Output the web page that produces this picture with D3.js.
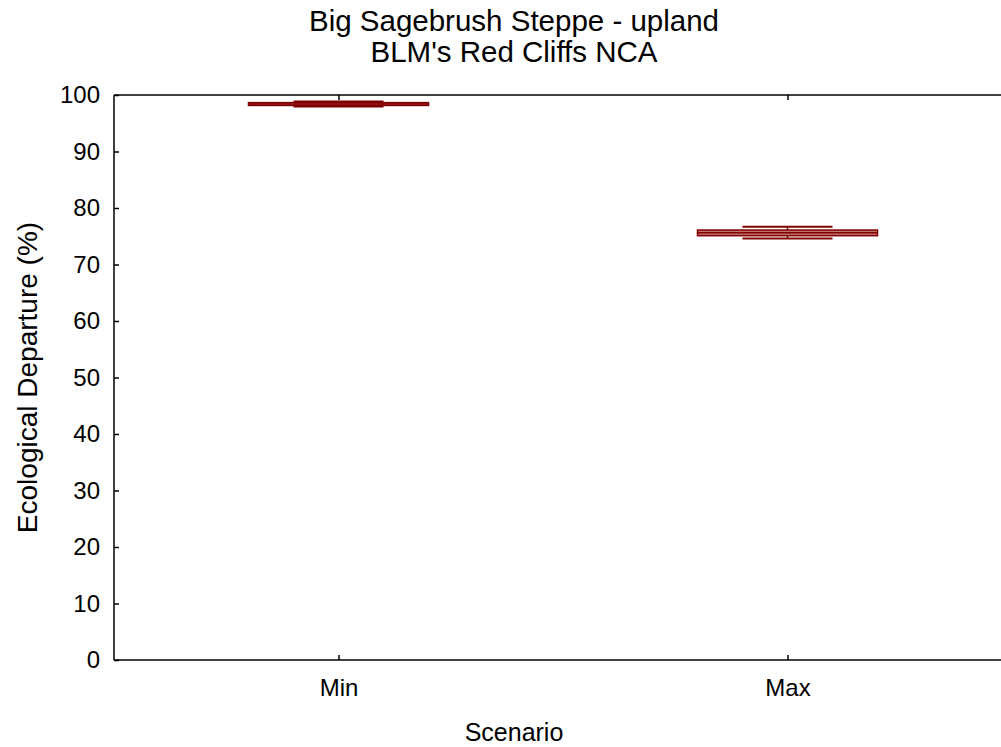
<!DOCTYPE html>
<html>
<head>
<meta charset="utf-8">
<script src="https://cdn.jsdelivr.net/npm/d3@7.9.0/dist/d3.min.js"></script>
<style>
  body { margin: 0; background: #fff; }
  svg { font-family: "Liberation Sans", Arial, sans-serif; }
</style>
</head>
<body>
<div id="chart"></div>
<script>
// box plot data
const scenarios = ['Min', 'Max'];
const whiskerLow = [97.95, 74.6];
const boxLow = [98.15, 75.1];
const medians = [98.4, 75.6];
const boxHigh = [98.65, 76.1];
const whiskerHigh = [98.85, 76.7];
const yTicks = [0, 10, 20, 30, 40, 50, 60, 70, 80, 90, 100];

const width = 1001;
const height = 747;
const margin = { top: 95, right: -11, bottom: 87, left: 114 };

const svg = d3.select('#chart').append('svg')
    .attr('width', width)
    .attr('height', height);

const x = d3.scalePoint()
    .domain(scenarios)
    .range([margin.left, width - margin.right])
    .padding(0.5);

const y = d3.scaleLinear()
    .domain([0, 100])
    .range([height - margin.bottom, margin.top]);

const plotBottom = height - margin.bottom;
const plotRight = width - margin.right;

// axes (ticks point inward)
const leftAxis = svg.append('g')
    .attr('transform', `translate(${margin.left},0)`)
    .call(d3.axisLeft(y).tickValues(yTicks).tickSizeInner(-5).tickSizeOuter(0).tickPadding(14));
const bottomAxis = svg.append('g')
    .attr('transform', `translate(0,${plotBottom})`)
    .call(d3.axisBottom(x).tickSizeInner(-5).tickSizeOuter(0).tickPadding(19));
const topAxis = svg.append('g')
    .attr('transform', `translate(0,${margin.top})`)
    .call(d3.axisTop(x).tickSizeInner(-5).tickSizeOuter(0).tickFormat(''));

[leftAxis, bottomAxis, topAxis].forEach((g) => {
  g.selectAll('path, line').attr('stroke', '#000').attr('stroke-width', 1.5);
  g.selectAll('text').attr('fill', '#000').style('font-size', '24px');
});
leftAxis.selectAll('.domain').attr('d', `M0,${plotBottom}V${margin.top}`);
bottomAxis.select('.domain').attr('d', `M${margin.left},0H${plotRight}`);
topAxis.select('.domain').attr('d', `M${margin.left},0H${plotRight}`);

// boxes
const boxW = 180;
const capW = 90;
const boxes = svg.append('g').attr('class', 'boxes')
    .selectAll('g')
    .data(scenarios)
    .join('g');

boxes.append('line')
    .attr('x1', (d) => x(d)).attr('x2', (d) => x(d))
    .attr('y1', (d, i) => y(whiskerLow[i]))
    .attr('y2', (d, i) => y(whiskerHigh[i]))
    .attr('stroke', '#800000').attr('stroke-width', 1.5);

boxes.selectAll('line.cap')
    .data((d, i) => [[d, whiskerLow[i]], [d, whiskerHigh[i]]])
    .join('line')
    .attr('class', 'cap')
    .attr('x1', (d) => x(d[0]) - capW / 2)
    .attr('x2', (d) => x(d[0]) + capW / 2)
    .attr('y1', (d) => y(d[1]))
    .attr('y2', (d) => y(d[1]))
    .attr('stroke', '#800000').attr('stroke-width', 2);

boxes.append('rect')
    .attr('x', (d) => x(d) - boxW / 2)
    .attr('width', boxW)
    .attr('y', (d, i) => y(boxHigh[i]))
    .attr('height', (d, i) => y(boxLow[i]) - y(boxHigh[i]))
    .attr('fill', '#c07070')
    .attr('stroke', '#800000').attr('stroke-width', 1.5);

boxes.append('line')
    .attr('x1', (d) => x(d) - boxW / 2).attr('x2', (d) => x(d) + boxW / 2)
    .attr('y1', (d, i) => y(medians[i]))
    .attr('y2', (d, i) => y(medians[i]))
    .attr('stroke', '#800000').attr('stroke-width', 1.5);

// titles
svg.append('text')
    .attr('x', 514).attr('y', 31)
    .attr('text-anchor', 'middle')
    .style('font-size', '29.5px')
    .text('Big Sagebrush Steppe - upland');
svg.append('text')
    .attr('x', 514).attr('y', 62)
    .attr('text-anchor', 'middle')
    .style('font-size', '29.5px')
    .text("BLM's Red Cliffs NCA");
svg.append('text')
    .attr('x', 514).attr('y', 741)
    .attr('text-anchor', 'middle')
    .style('font-size', '25px')
    .text('Scenario');
svg.append('text')
    .attr('transform', `translate(37,${(margin.top + plotBottom) / 2}) rotate(-90)`)
    .attr('text-anchor', 'middle')
    .style('font-size', '28px')
    .text('Ecological Departure (%)');
</script>
</body>
</html>
